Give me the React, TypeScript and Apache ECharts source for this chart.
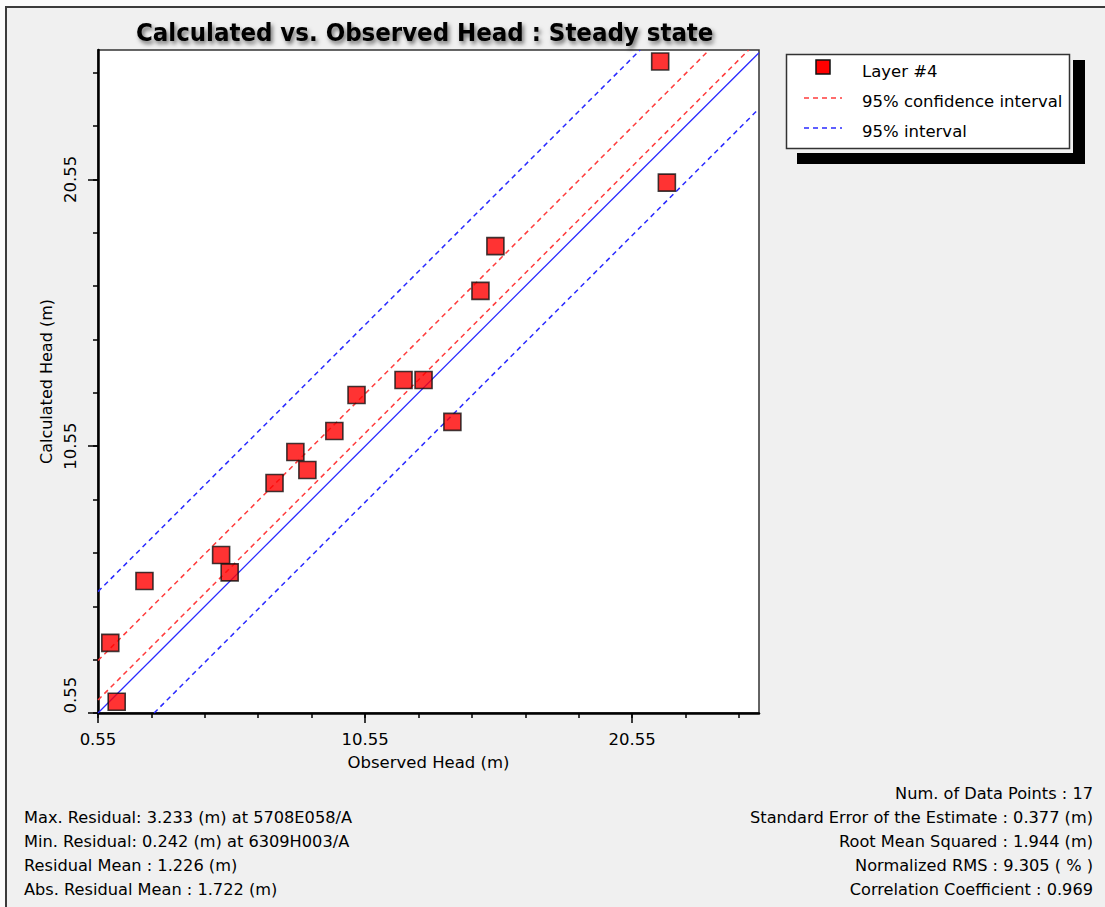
import React, { useEffect, useRef } from "react";
import * as echarts from "echarts";

// Observed vs calculated head (m), Layer #4
const observed = [1.01, 1.25, 2.29, 5.16, 5.48, 7.16, 7.94, 8.39, 9.4, 10.23, 11.99, 12.74, 13.82, 14.87, 15.43, 21.6, 21.85];
const calculated = [3.18, 0.97, 5.5, 6.47, 5.82, 9.17, 10.33, 9.66, 11.12, 12.47, 13.03, 13.03, 11.46, 16.37, 18.05, 24.97, 20.43];

// Reference lines (end points)
const oneToOneLine = [[0.55, 0.55], [25.3, 25.3]];
const confUpperLine = [[0.55, 2.515], [23.435, 25.4]];
const confLowerLine = [[0.55, 1.037], [24.913, 25.4]];
const predUpperLine = [[0.55, 5.1], [20.85, 25.4]];
const predLowerLine = [[2.65, 0.55], [25.3, 23.2]];

// Axes
const axisMin = 0.55;
const xAxisMax = 25.3;
const yAxisMax = 25.4;
const minorTickValues = [0.55, 2.55, 4.55, 6.55, 8.55, 10.55, 12.55, 14.55, 16.55, 18.55, 20.55, 22.55, 24.55];
const majorTickValues = [0.55, 10.55, 20.55];

const titleText = "Calculated vs. Observed Head : Steady state";
const xAxisTitle = "Observed Head (m)";
const yAxisTitle = "Calculated Head (m)";
const legendLabels = ["Layer #4", "95% confidence interval", "95% interval"];
const leftStats = [
  "Max. Residual: 3.233 (m) at 5708E058/A",
  "Min. Residual: 0.242 (m) at 6309H003/A",
  "Residual Mean : 1.226 (m)",
  "Abs. Residual Mean : 1.722 (m)",
];
const rightStats = [
  "Num. of Data Points : 17",
  "Standard Error of the Estimate : 0.377 (m)",
  "Root Mean Squared : 1.944 (m)",
  "Normalized RMS : 9.305 ( % )",
  "Correlation Coefficient : 0.969",
];

const FONT = "DejaVu Sans";
const RED = "#ff0000";
const RED_DASH = "#ff3c3c";
const BLUE = "#2a2aff";

export default function App() {
  const ref = useRef<HTMLDivElement>(null);

  useEffect(() => {
    if (!ref.current) return;
    const chart = echarts.init(ref.current, null, { renderer: "svg" });

    const points = observed.map((x, i) => [x, calculated[i]]);
    const tickLine = { color: "#000", width: 1.5 };
    const labelStyle = { color: "#000", fontFamily: FONT, fontSize: 16.5 };

    const lineSeries = (data: number[][], color: string, dashed: boolean) => ({
      type: "line",
      xAxisIndex: 0,
      yAxisIndex: 0,
      data,
      color,
      symbol: "none",
      silent: true,
      clip: true,
      itemStyle: { color },
      lineStyle: { color, width: dashed ? 1.5 : 1.3, type: dashed ? [5, 4] : "solid" },
      z: 2,
    });

    const textEl = (text: string, x: number, y: number, align: string, size: number) => ({
      type: "text",
      x,
      y,
      silent: true,
      style: { text, fill: "#000", fontFamily: FONT, fontSize: size, align, verticalAlign: "middle" },
    });

    const option: any = {
      animation: false,
      backgroundColor: "transparent",
      title: {
        text: titleText,
        left: 131,
        top: 14,
        textStyle: {
          fontFamily: "DejaVu Sans Condensed, Liberation Sans Narrow, sans-serif",
          fontWeight: "bold",
          fontSize: 25.5,
          color: "#000",
          textShadowColor: "rgba(0,0,0,0.55)",
          textShadowBlur: 4,
          textShadowOffsetX: 2,
          textShadowOffsetY: 3,
        },
      },
      grid: {
        left: 98,
        top: 50,
        width: 661,
        height: 663,
        show: true,
        backgroundColor: "#fff",
        borderColor: "#333",
        borderWidth: 1.5,
      },
      xAxis: [
        {
          type: "value",
          min: axisMin,
          max: xAxisMax,
          position: "bottom",
          axisLine: { show: true, onZero: false, lineStyle: { color: "#000", width: 2.5 } },
          axisTick: { show: true, length: 5, customValues: minorTickValues, lineStyle: tickLine },
          axisLabel: { show: false },
          splitLine: { show: false },
        },
        {
          type: "value",
          min: axisMin,
          max: xAxisMax,
          position: "bottom",
          axisLine: { show: false, onZero: false },
          axisTick: { show: true, length: 10, customValues: majorTickValues, lineStyle: tickLine },
          axisLabel: {
            customValues: majorTickValues,
            formatter: (v: number) => v.toFixed(2),
            margin: 18,
            ...labelStyle,
          },
          splitLine: { show: false },
          name: xAxisTitle,
          nameLocation: "middle",
          nameGap: 41,
          nameTextStyle: { color: "#000", fontFamily: FONT, fontSize: 16.5 },
        },
      ],
      yAxis: [
        {
          type: "value",
          min: axisMin,
          max: yAxisMax,
          position: "left",
          axisLine: { show: true, onZero: false, lineStyle: { color: "#000", width: 2.5 } },
          axisTick: { show: true, length: 5, customValues: minorTickValues, lineStyle: tickLine },
          axisLabel: { show: false },
          splitLine: { show: false },
        },
        {
          type: "value",
          min: axisMin,
          max: yAxisMax,
          position: "left",
          axisLine: { show: false, onZero: false },
          axisTick: { show: true, length: 10, customValues: majorTickValues, lineStyle: tickLine },
          axisLabel: {
            customValues: majorTickValues,
            rotate: 90,
            margin: 19,
            formatter: (v: number) => (Math.abs(v - axisMin) < 1e-6 ? "{s|" + v.toFixed(2) + "}" : v.toFixed(2)),
            rich: { s: { padding: [0, 0, 0, 36], ...labelStyle } },
            ...labelStyle,
          },
          splitLine: { show: false },
          name: yAxisTitle,
          nameLocation: "middle",
          nameGap: 42,
          nameTextStyle: { color: "#000", fontFamily: FONT, fontSize: 16 },
        },
      ],
      series: [
        lineSeries(oneToOneLine, BLUE, false),
        lineSeries(confUpperLine, RED_DASH, true),
        lineSeries(confLowerLine, RED_DASH, true),
        lineSeries(predUpperLine, BLUE, true),
        lineSeries(predLowerLine, BLUE, true),
        {
          type: "scatter",
          name: legendLabels[0],
          xAxisIndex: 0,
          yAxisIndex: 0,
          data: points,
          symbol: "rect",
          symbolSize: 17,
          itemStyle: { color: RED, borderColor: "#111", borderWidth: 1.6 },
          z: 5,
        },
      ],
      graphic: [
        { type: "rect", silent: true, shape: { x: 797, y: 60, width: 288, height: 104 }, style: { fill: "#000" } },
        { type: "rect", silent: true, shape: { x: 785, y: 53, width: 288, height: 100 }, style: { fill: "#f0f0f0" } },
        {
          type: "rect",
          silent: true,
          shape: { x: 786.5, y: 54.5, width: 283, height: 94 },
          style: { fill: "#fff", stroke: "#333", lineWidth: 1.5 },
        },
        {
          type: "rect",
          silent: true,
          shape: { x: 816, y: 60, width: 14, height: 14 },
          style: { fill: RED, stroke: "#111", lineWidth: 1.5 },
        },
        {
          type: "line",
          silent: true,
          shape: { x1: 804, y1: 98, x2: 842, y2: 98 },
          style: { stroke: RED_DASH, lineWidth: 1.5, lineDash: [5, 4] },
        },
        {
          type: "line",
          silent: true,
          shape: { x1: 804, y1: 128, x2: 842, y2: 128 },
          style: { stroke: BLUE, lineWidth: 1.5, lineDash: [5, 4] },
        },
        textEl(legendLabels[0], 862, 71, "left", 16.5),
        textEl(legendLabels[1], 862, 101, "left", 16.5),
        textEl(legendLabels[2], 862, 131, "left", 16.5),
        ...leftStats.map((t, i) => textEl(t, 24, 817 + i * 24, "left", 16.2)),
        ...rightStats.map((t, i) => textEl(t, 1093, 793 + i * 24, "right", 16.2)),
      ],
    };

    chart.setOption(option);
    return () => chart.dispose();
  }, []);

  return (
    <div style={{ position: "fixed", left: 0, top: 0, width: 1105, height: 907, background: "#fafafa", overflow: "hidden" }}>
      <div
        style={{
          position: "absolute",
          left: 5,
          top: 6,
          right: 0,
          bottom: 0,
          background: "#f0f0f0",
          borderTop: "2px solid #3a3a3a",
          borderLeft: "2px solid #3a3a3a",
        }}
      />
      <div ref={ref} style={{ position: "absolute", left: 0, top: 0, width: 1105, height: 907 }} />
    </div>
  );
}
